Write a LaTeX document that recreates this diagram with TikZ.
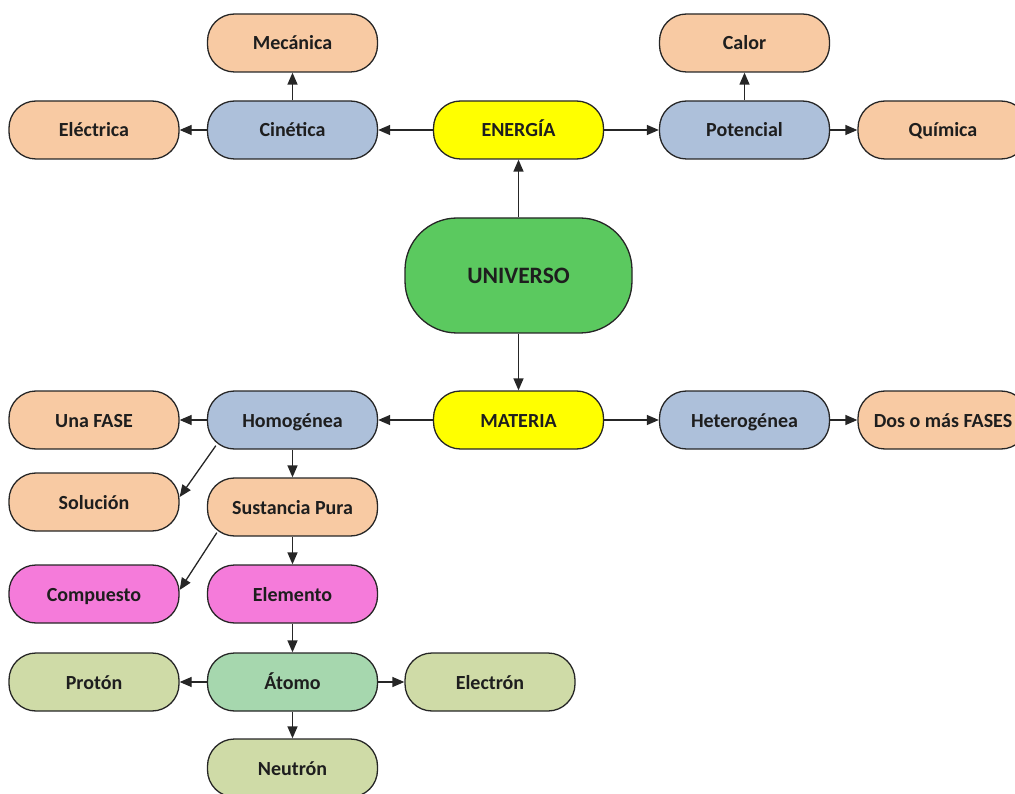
\documentclass[tikz,border=0pt]{standalone}
\usepackage{fontspec}
\setmainfont{Carlito}
\usetikzlibrary{arrows.meta}
\definecolor{peach}{HTML}{F8CAA3}
\definecolor{bluebox}{HTML}{ADC0DA}
\definecolor{yel}{HTML}{FFFF00}
\definecolor{unigreen}{HTML}{5BC95F}
\definecolor{magbox}{HTML}{F57BDA}
\definecolor{atomgreen}{HTML}{A6D7AE}
\definecolor{olive}{HTML}{CFDBA7}
\definecolor{txt}{HTML}{1E1E1E}
\tikzset{
  box/.style={draw=black!85, line width=1.3pt, rounded corners=27pt,
    minimum width=170pt, minimum height=58pt, inner sep=0pt,
    text height=18pt, text depth=4pt,
    font=\fontsize{20}{22}\selectfont\bfseries, text=txt},
  big/.style={box, rounded corners=52pt, minimum width=227pt, minimum height=115pt,
    text height=20pt, text depth=4pt,
    font=\fontsize{23.5}{26}\selectfont\bfseries},
  conn/.style={draw=black!85, line width=1.3pt, -{Triangle[length=12pt,width=10pt]}}
}
\begin{document}
\begin{tikzpicture}[x=1pt,y=-1pt]
\useasboundingbox (0,0) rectangle (1015,794);
\clip (0,0) rectangle (1015,794);
% energy branch
\node[box, fill=peach] (mec) at (292.5,43) {Mecánica};
\node[box, fill=bluebox] (cin) at (292.5,130) {Cinética};
\node[box, fill=peach] (ele) at (94,130) {Eléctrica};
\node[box, fill=yel] (ene) at (518.5,130) {ENERGÍA};
\node[box, fill=bluebox] (pot) at (744.5,130) {Potencial};
\node[box, fill=peach] (cal) at (744.5,43) {Calor};
\node[box, fill=peach] (qui) at (943,130) {Química};
% universe
\node[big, fill=unigreen] (uni) at (518.5,275.5) {UNIVERSO};
% matter branch
\node[box, fill=yel] (mat) at (518.5,420) {MATERIA};
\node[box, fill=bluebox] (hom) at (292.5,420) {Homogénea};
\node[box, fill=peach] (una) at (94,420) {Una FASE};
\node[box, fill=bluebox] (het) at (744.5,420) {Heterogénea};
\node[box, fill=peach] (dos) at (943,420) {Dos o más FASES};
\node[box, fill=peach] (sol) at (94,502) {Solución};
\node[box, fill=peach] (sus) at (292.5,507) {Sustancia Pura};
\node[box, fill=magbox] (com) at (94,594) {Compuesto};
\node[box, fill=magbox] (elm) at (292.5,594) {Elemento};
\node[box, fill=olive] (pro) at (94,682) {Protón};
\node[box, fill=atomgreen] (ato) at (292.5,682) {Átomo};
\node[box, fill=olive] (elc) at (490,682) {Electrón};
\node[box, fill=olive] (neu) at (292.5,768) {Neutrón};
% connectors
\draw[conn] (uni) -- (ene);
\draw[conn] (uni) -- (mat);
\draw[conn] (ene) -- (cin);
\draw[conn] (cin) -- (ele);
\draw[conn] (cin) -- (mec);
\draw[conn] (ene) -- (pot);
\draw[conn] (pot) -- (cal);
\draw[conn] (pot) -- (qui);
\draw[conn] (mat) -- (hom);
\draw[conn] (hom) -- (una);
\draw[conn] (mat) -- (het);
\draw[conn] (het) -- (dos);
\draw[conn] ([xshift=9pt,yshift=4pt]hom.south west) -- ([yshift=5pt]sol.east);
\draw[conn] (hom) -- (sus);
\draw[conn] ([xshift=10pt,yshift=4pt]sus.south west) -- ([yshift=4pt]com.east);
\draw[conn] (sus) -- (elm);
\draw[conn] (elm) -- (ato);
\draw[conn] (ato) -- (pro);
\draw[conn] (ato) -- (elc);
\draw[conn] (ato) -- (neu);
\end{tikzpicture}
\end{document}
